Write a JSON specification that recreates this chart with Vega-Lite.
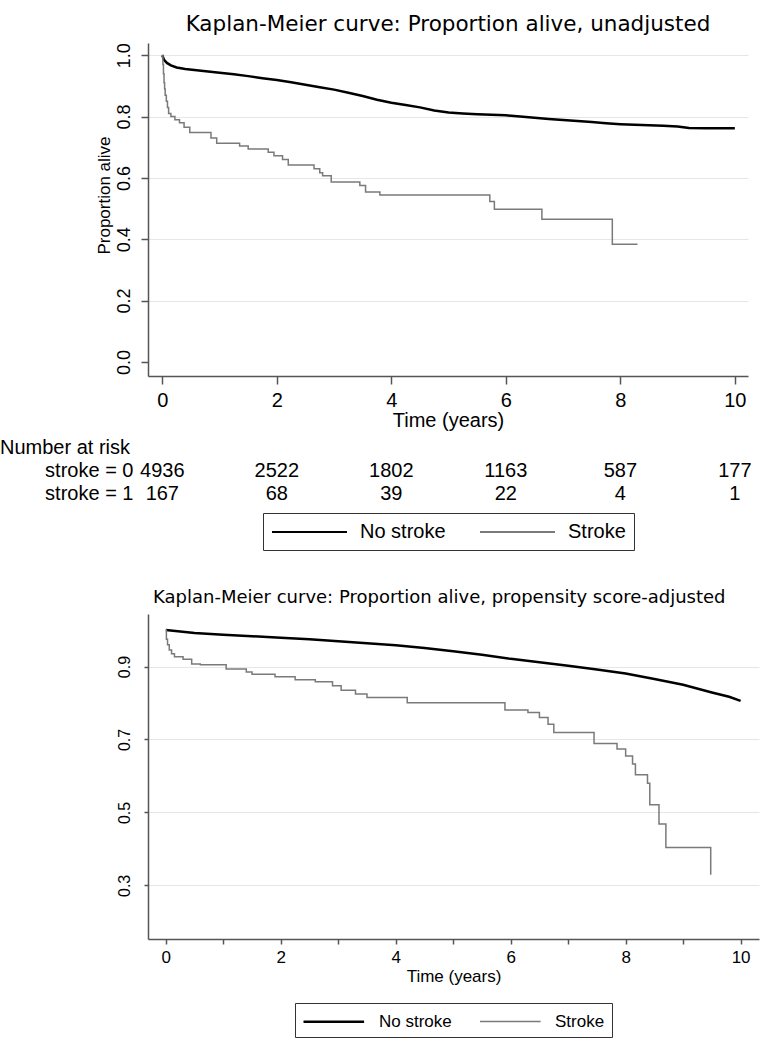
{
  "$schema": "https://vega.github.io/schema/vega-lite/v6.json",
  "background": "white",
  "padding": {"left": 0, "top": 14, "right": 5, "bottom": 5},
  "spacing": 8,
  "datasets": {
    "top": [
      {"g":"No stroke","t":0,"s":1.0},{"g":"No stroke","t":0.03,"s":0.985},{"g":"No stroke","t":0.08,"s":0.975},{"g":"No stroke","t":0.15,"s":0.967},{"g":"No stroke","t":0.25,"s":0.96},{"g":"No stroke","t":0.4,"s":0.955},{"g":"No stroke","t":0.6,"s":0.951},{"g":"No stroke","t":0.8,"s":0.947},{"g":"No stroke","t":1.0,"s":0.943},{"g":"No stroke","t":1.25,"s":0.938},{"g":"No stroke","t":1.5,"s":0.932},{"g":"No stroke","t":1.75,"s":0.925},{"g":"No stroke","t":2.0,"s":0.919},{"g":"No stroke","t":2.25,"s":0.912},{"g":"No stroke","t":2.5,"s":0.904},{"g":"No stroke","t":2.75,"s":0.896},{"g":"No stroke","t":3.0,"s":0.888},{"g":"No stroke","t":3.25,"s":0.878},{"g":"No stroke","t":3.5,"s":0.867},{"g":"No stroke","t":3.75,"s":0.855},{"g":"No stroke","t":4.0,"s":0.845},{"g":"No stroke","t":4.25,"s":0.838},{"g":"No stroke","t":4.5,"s":0.83},{"g":"No stroke","t":4.75,"s":0.82},{"g":"No stroke","t":5.0,"s":0.813},{"g":"No stroke","t":5.25,"s":0.81},{"g":"No stroke","t":5.5,"s":0.808},{"g":"No stroke","t":5.75,"s":0.806},{"g":"No stroke","t":6.0,"s":0.804},{"g":"No stroke","t":6.25,"s":0.8},{"g":"No stroke","t":6.5,"s":0.796},{"g":"No stroke","t":6.75,"s":0.792},{"g":"No stroke","t":7.0,"s":0.789},{"g":"No stroke","t":7.25,"s":0.786},{"g":"No stroke","t":7.5,"s":0.782},{"g":"No stroke","t":7.75,"s":0.778},{"g":"No stroke","t":8.0,"s":0.775},{"g":"No stroke","t":8.25,"s":0.773},{"g":"No stroke","t":8.5,"s":0.772},{"g":"No stroke","t":8.75,"s":0.77},{"g":"No stroke","t":9.0,"s":0.768},{"g":"No stroke","t":9.2,"s":0.763},{"g":"No stroke","t":9.5,"s":0.762},{"g":"No stroke","t":10.0,"s":0.762},
      {"g":"Stroke","t":0,"s":1.0},{"g":"Stroke","t":0.01,"s":0.97},{"g":"Stroke","t":0.02,"s":0.94},{"g":"Stroke","t":0.03,"s":0.91},{"g":"Stroke","t":0.04,"s":0.89},{"g":"Stroke","t":0.05,"s":0.87},{"g":"Stroke","t":0.07,"s":0.85},{"g":"Stroke","t":0.09,"s":0.83},{"g":"Stroke","t":0.11,"s":0.81},{"g":"Stroke","t":0.15,"s":0.8},{"g":"Stroke","t":0.22,"s":0.79},{"g":"Stroke","t":0.3,"s":0.78},{"g":"Stroke","t":0.38,"s":0.765},{"g":"Stroke","t":0.48,"s":0.748},{"g":"Stroke","t":0.85,"s":0.73},{"g":"Stroke","t":0.95,"s":0.713},{"g":"Stroke","t":1.35,"s":0.704},{"g":"Stroke","t":1.5,"s":0.694},{"g":"Stroke","t":1.85,"s":0.684},{"g":"Stroke","t":1.95,"s":0.672},{"g":"Stroke","t":2.1,"s":0.66},{"g":"Stroke","t":2.2,"s":0.642},{"g":"Stroke","t":2.65,"s":0.63},{"g":"Stroke","t":2.75,"s":0.617},{"g":"Stroke","t":2.8,"s":0.607},{"g":"Stroke","t":2.95,"s":0.587},{"g":"Stroke","t":3.45,"s":0.575},{"g":"Stroke","t":3.55,"s":0.554},{"g":"Stroke","t":3.8,"s":0.544},{"g":"Stroke","t":5.72,"s":0.523},{"g":"Stroke","t":5.8,"s":0.498},{"g":"Stroke","t":6.63,"s":0.465},{"g":"Stroke","t":7.86,"s":0.384},{"g":"Stroke","t":8.3,"s":0.384}
    ],
    "bottom": [
      {"g":"No stroke","t":0,"s":1.0},{"g":"No stroke","t":0.5,"s":0.992},{"g":"No stroke","t":1.0,"s":0.987},{"g":"No stroke","t":1.5,"s":0.983},{"g":"No stroke","t":2.0,"s":0.979},{"g":"No stroke","t":2.5,"s":0.975},{"g":"No stroke","t":3.0,"s":0.969},{"g":"No stroke","t":3.5,"s":0.964},{"g":"No stroke","t":4.0,"s":0.958},{"g":"No stroke","t":4.5,"s":0.951},{"g":"No stroke","t":5.0,"s":0.942},{"g":"No stroke","t":5.5,"s":0.932},{"g":"No stroke","t":6.0,"s":0.921},{"g":"No stroke","t":6.5,"s":0.912},{"g":"No stroke","t":7.0,"s":0.902},{"g":"No stroke","t":7.5,"s":0.892},{"g":"No stroke","t":8.0,"s":0.881},{"g":"No stroke","t":8.5,"s":0.866},{"g":"No stroke","t":9.0,"s":0.85},{"g":"No stroke","t":9.5,"s":0.829},{"g":"No stroke","t":9.8,"s":0.817},{"g":"No stroke","t":10.0,"s":0.806},
      {"g":"Stroke","t":0,"s":1.0},{"g":"Stroke","t":0.01,"s":0.975},{"g":"Stroke","t":0.03,"s":0.96},{"g":"Stroke","t":0.06,"s":0.945},{"g":"Stroke","t":0.1,"s":0.935},{"g":"Stroke","t":0.15,"s":0.927},{"g":"Stroke","t":0.3,"s":0.92},{"g":"Stroke","t":0.45,"s":0.907},{"g":"Stroke","t":0.6,"s":0.905},{"g":"Stroke","t":1.05,"s":0.893},{"g":"Stroke","t":1.4,"s":0.885},{"g":"Stroke","t":1.5,"s":0.879},{"g":"Stroke","t":1.9,"s":0.872},{"g":"Stroke","t":2.25,"s":0.864},{"g":"Stroke","t":2.6,"s":0.858},{"g":"Stroke","t":2.9,"s":0.847},{"g":"Stroke","t":3.05,"s":0.835},{"g":"Stroke","t":3.3,"s":0.825},{"g":"Stroke","t":3.5,"s":0.815},{"g":"Stroke","t":4.2,"s":0.801},{"g":"Stroke","t":5.9,"s":0.781},{"g":"Stroke","t":6.3,"s":0.774},{"g":"Stroke","t":6.5,"s":0.76},{"g":"Stroke","t":6.65,"s":0.742},{"g":"Stroke","t":6.75,"s":0.719},{"g":"Stroke","t":7.45,"s":0.689},{"g":"Stroke","t":7.85,"s":0.674},{"g":"Stroke","t":8.0,"s":0.655},{"g":"Stroke","t":8.12,"s":0.633},{"g":"Stroke","t":8.17,"s":0.603},{"g":"Stroke","t":8.38,"s":0.58},{"g":"Stroke","t":8.42,"s":0.521},{"g":"Stroke","t":8.58,"s":0.468},{"g":"Stroke","t":8.7,"s":0.404},{"g":"Stroke","t":9.48,"s":0.329}
    ],
    "risk": [
      {"t":0,"row":"stroke = 0","n":"4936"},{"t":2,"row":"stroke = 0","n":"2522"},{"t":4,"row":"stroke = 0","n":"1802"},{"t":6,"row":"stroke = 0","n":"1163"},{"t":8,"row":"stroke = 0","n":"587"},{"t":10,"row":"stroke = 0","n":"177"},
      {"t":0,"row":"stroke = 1","n":"167"},{"t":2,"row":"stroke = 1","n":"68"},{"t":4,"row":"stroke = 1","n":"39"},{"t":6,"row":"stroke = 1","n":"22"},{"t":8,"row":"stroke = 1","n":"4"},{"t":10,"row":"stroke = 1","n":"1"}
    ],
    "groups": [{"g":"No stroke"},{"g":"Stroke"}]
  },
  "config": {
    "font": "Liberation Sans",
    "view": {"stroke": null},
    "axis": {"domainColor": "#555555", "domainWidth": 1.5, "tickColor": "#555555", "tickWidth": 1.5, "labelColor": "black", "titleColor": "black", "labelFont": "Liberation Sans", "titleFont": "Liberation Sans", "titleFontWeight": "normal", "gridColor": "#e6e6e6", "gridWidth": 1.2},
    "title": {"fontWeight": "normal", "color": "black"}
  },
  "resolve": {"scale": {"color": "independent", "strokeWidth": "independent", "x": "independent", "y": "independent"}, "legend": {"color": "independent", "strokeWidth": "independent"}},
  "vconcat": [
    {
      "width": 600,
      "height": 333,
      "title": {"text": "Kaplan-Meier curve: Proportion alive, unadjusted", "font": "DejaVu Sans", "fontSize": 21.5, "anchor": "middle", "offset": 7},
      "data": {"name": "top"},
      "encoding": {
        "x": {"field": "t", "type": "quantitative", "scale": {"domain": [-0.25, 10.23], "nice": false, "zero": false},
              "axis": {"values": [0,2,4,6,8,10], "title": "Time (years)", "grid": false, "tickSize": 8, "labelFontSize": 20, "titleFontSize": 20, "labelPadding": 6, "titlePadding": 0}},
        "y": {"field": "s", "type": "quantitative", "scale": {"domain": [-0.046, 1.04], "nice": false, "zero": false},
              "axis": {"values": [0,0.2,0.4,0.6,0.8,1.0], "format": ".1f", "title": "Proportion alive", "grid": true,
                       "gridColor": {"condition": {"test": "datum.value === 0", "value": "white"}, "value": "#e6e6e6"},
                       "tickSize": 7, "labelFontSize": 18, "labelAngle": 270, "labelAlign": "center", "labelBaseline": "bottom", "labelPadding": 8,
                       "titleFontSize": 17, "titlePadding": 2, "titleY": 152}},
        "color": {"field": "g", "type": "nominal", "scale": {"domain": ["No stroke","Stroke"], "range": ["black","#7a7a7a"]}, "legend": null},
        "strokeWidth": {"field": "g", "type": "nominal", "scale": {"domain": ["No stroke","Stroke"], "range": [2.5, 1.5]}, "legend": null}
      },
      "layer": [
        {"transform": [{"filter": "datum.g === 'No stroke'"}], "mark": {"type": "line", "interpolate": "linear"}},
        {"transform": [{"filter": "datum.g === 'Stroke'"}], "mark": {"type": "line", "interpolate": "step-after"}}
      ]
    },
    {
      "width": 600,
      "height": 46,
      "title": {"text": "Number at risk", "anchor": "start", "frame": "group", "dx": -148, "fontSize": 20, "font": "Liberation Sans", "offset": 1},
      "layer": [
        {
          "data": {"name": "risk"},
          "mark": {"type": "text", "fontSize": 20, "baseline": "middle", "align": "center", "color": "black"},
          "encoding": {
            "x": {"field": "t", "type": "quantitative", "scale": {"domain": [-0.25, 10.23], "nice": false, "zero": false}, "axis": null},
            "y": {"field": "row", "type": "nominal", "scale": {"type": "point", "padding": 0.5},
                  "axis": {"domain": false, "ticks": false, "title": null, "labelFontSize": 20, "labelPadding": 15, "labelColor": "black"}},
            "text": {"field": "n"}
          }
        },
        {
          "data": {"name": "groups"},
          "transform": [{"filter": "false"}],
          "mark": {"type": "line"},
          "encoding": {
            "x": {"field": "t", "type": "quantitative"},
            "y": {"field": "row", "type": "nominal"},
            "color": {"field": "g", "type": "nominal", "scale": {"domain": ["No stroke","Stroke"], "range": ["black","#7a7a7a"]},
                      "legend": {"orient": "none", "legendX": 115, "legendY": 54, "direction": "horizontal", "title": null, "symbolType": "M-1,0H6.5", "symbolSize": 400, "symbolStrokeWidth": 2, "labelFontSize": 20, "labelFont": "Liberation Sans", "labelColor": "black", "strokeColor": "#333333", "padding": 8, "columnPadding": 30, "labelOffset": 67}}
          }
        }
      ]
    },
    {
      "width": 611,
      "height": 325,
      "title": {"text": ["", "Kaplan-Meier curve: Proportion alive, propensity score-adjusted"], "font": "DejaVu Sans", "fontSize": 18, "lineHeight": 30, "anchor": "start", "frame": "group", "dx": 5, "offset": 7},
      "data": {"name": "bottom"},
      "encoding": {
        "x": {"field": "t", "type": "quantitative", "scale": {"domain": [-0.31, 10.32], "nice": false, "zero": false},
              "axis": {"values": [0,1,2,3,4,5,6,7,8,9,10], "labelExpr": "datum.value % 2 === 0 ? datum.label : ''", "title": "Time (years)", "grid": false, "tickSize": 5, "labelFontSize": 17, "titleFontSize": 17, "labelPadding": 5, "titlePadding": 3}},
        "y": {"field": "s", "type": "quantitative", "scale": {"domain": [0.153, 1.044], "nice": false, "zero": false},
              "axis": {"values": [0.3,0.5,0.7,0.9], "format": ".1f", "title": null, "grid": true, "tickSize": 4, "labelFontSize": 16, "labelAngle": 270, "labelAlign": "center", "labelBaseline": "bottom", "labelPadding": 12}},
        "color": {"field": "g", "type": "nominal", "scale": {"domain": ["No stroke","Stroke"], "range": ["black","#7a7a7a"]},
                  "legend": {"orient": "none", "legendX": 147, "legendY": 389, "direction": "horizontal", "title": null, "symbolType": "M-1,0H5.06", "symbolSize": 400, "symbolStrokeWidth": 2, "labelFontSize": 17, "labelFont": "Liberation Sans", "labelColor": "black", "strokeColor": "#333333", "padding": 7, "columnPadding": 25, "labelOffset": 54}},
        "strokeWidth": {"field": "g", "type": "nominal", "scale": {"domain": ["No stroke","Stroke"], "range": [2.5, 1.5]}, "legend": null}
      },
      "layer": [
        {"transform": [{"filter": "datum.g === 'No stroke'"}], "mark": {"type": "line", "interpolate": "linear"}},
        {"transform": [{"filter": "datum.g === 'Stroke'"}], "mark": {"type": "line", "interpolate": "step-after"}}
      ]
    }
  ]
}
